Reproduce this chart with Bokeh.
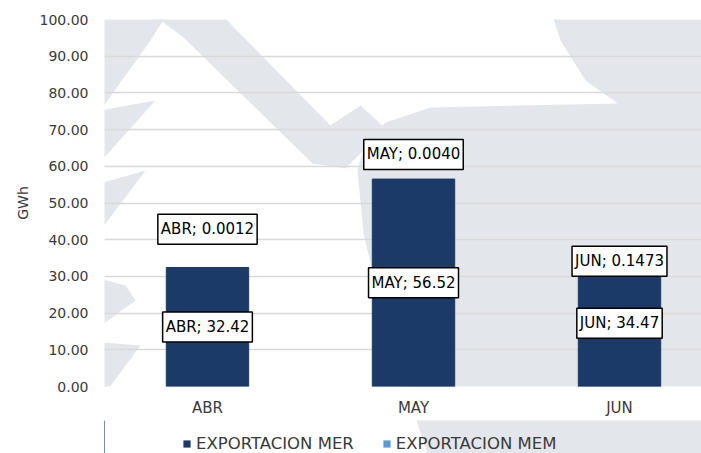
from bokeh.plotting import figure
from bokeh.layouts import column
from bokeh.models import (ColumnDataSource, Range1d, FixedTicker, Legend, LegendItem,
                          NumeralTickFormatter, PolyAnnotation)
from bokeh.core.properties import value
from bokeh.embed import file_html
from bokeh.resources import INLINE

months = ["ABR", "MAY", "JUN"]
mer = [32.42, 56.52, 34.47]
mem = [0.0012, 0.0040, 0.1473]
mem_text = ["0.0012", "0.0040", "0.1473"]
y_ticks = [0, 10, 20, 30, 40, 50, 60, 70, 80, 90, 100]
series = ["EXPORTACION MER", "EXPORTACION MEM"]

# manual label offsets (style/position), data units above stack top
mem_label_offset = [10.4, 6.7, -0.5]

FONT = "DejaVu Sans"
NAVY = "#1b3a68"
LIGHT = "#5b9bd5"
WM = "#e3e6eb"
H1 = 420          # height of main figure
FL, FB = 104, 386  # page position of frame left / frame bottom

# background watermark shapes (decoration, page pixels)
watermark = [
    [(0, 20), (40, 15), (60, 0), (175, 0), (150, 40), (100, 110), (155, 100), (110, 150),
     (75, 190), (145, 170), (100, 230), (70, 270), (125, 285), (135, 300), (80, 340),
     (140, 345), (60, 453), (0, 453)],
    [(140, 0), (207, 0), (330, 125), (360, 105), (385, 128), (345, 168), (312, 163),
     (183, 37), (160, 20)],
    [(547, 0), (701, 0), (701, 453), (427, 453), (387, 333), (363, 233), (357, 170),
     (365, 140), (385, 122), (430, 107), (617, 103), (585, 80), (560, 40)],
]

xs = list(range(len(months)))
src = ColumnDataSource(dict(
    x=xs, mer=mer, mem=mem,
    top_mem=[a + b for a, b in zip(mer, mem)],
    mer_mid=[a / 2 for a in mer],
    mem_lab_y=[a + b + o for a, b, o in zip(mer, mem, mem_label_offset)],
    mer_lab=[f"{m}; {v:.2f}" for m, v in zip(months, mer)],
    mem_lab=[f"{m}; {t}" for m, t in zip(months, mem_text)],
))


def add_watermark(fig, bottom, shapes):
    for poly in shapes:
        fig.add_layout(PolyAnnotation(xs=[a - FL for a, b in poly], ys=[bottom - b for a, b in poly],
                                      xs_units="screen", ys_units="screen", level="image",
                                      fill_color=WM, fill_alpha=1, line_color=None))


p = figure(width=701, height=H1, output_backend="svg", toolbar_location=None,
           x_range=Range1d(-0.5, 2.398), y_range=Range1d(0, 100),
           min_border_left=FL, min_border_right=0, min_border_top=19, min_border_bottom=H1 - FB)
p.outline_line_color = None
p.background_fill_color = "white"
add_watermark(p, FB, watermark)

p.vbar(x="x", bottom=0, top="mer", width=0.4, source=src, fill_color=NAVY, line_color=NAVY)
p.vbar(x="x", bottom="mer", top="top_mem", width=0.4, source=src, fill_color=LIGHT, line_color=None)

p.xgrid.visible = False
p.ygrid.grid_line_color = "#d9d9d9"
p.ygrid.grid_line_width = 1.5
p.yaxis.ticker = FixedTicker(ticks=y_ticks)
p.yaxis.formatter = NumeralTickFormatter(format="0.00")
p.xaxis.ticker = FixedTicker(ticks=xs)
p.xaxis.major_label_overrides = {i: m for i, m in enumerate(months)}

for ax in (p.xaxis[0], p.yaxis[0]):
    ax.axis_line_color = None
    ax.major_tick_line_color = None
    ax.minor_tick_line_color = None
    ax.major_tick_out = 0
    ax.major_tick_in = 0
    ax.minor_tick_out = 0
    ax.minor_tick_in = 0
    ax.major_label_text_font = FONT
    ax.major_label_text_color = "#3a3a3a"
p.yaxis.major_label_text_font_size = "14px"
p.xaxis.major_label_text_font_size = "15px"
p.yaxis.major_label_standoff = 16
p.xaxis.major_label_standoff = 12
p.yaxis.axis_label = "GWh"
p.yaxis.axis_label_text_font = FONT
p.yaxis.axis_label_text_font_size = "14px"
p.yaxis.axis_label_text_font_style = "normal"
p.yaxis.axis_label_text_color = "#3a3a3a"
p.yaxis.axis_label_standoff = 6

for col_y, col_t in (("mer_mid", "mer_lab"), ("mem_lab_y", "mem_lab")):
    p.text(x="x", y=col_y, text=col_t, source=src, text_align="center",
           text_baseline="middle", text_font=value(FONT), text_font_size="15px",
           text_color="black", background_fill_color="white",
           border_line_color="black", border_line_width=1.5, padding=(3, 6))

# legend strip
q = figure(width=701, height=453 - H1, output_backend="svg", toolbar_location=None,
           x_range=Range1d(len(months) + 1, len(months) + 2), y_range=Range1d(0, 1),
           x_axis_type=None, y_axis_type=None, min_border=0)
q.outline_line_color = None
q.grid.visible = False
add_watermark(q, 453, watermark[1:])
g1 = q.vbar(x="x", top="mer", width=0.4, source=src, fill_color=NAVY, line_color=None)
g2 = q.vbar(x="x", top="mem", width=0.4, source=src, fill_color=LIGHT, line_color=None)
legend = Legend(items=[LegendItem(label=series[0], renderers=[g1]),
                       LegendItem(label=series[1], renderers=[g2])],
                orientation="horizontal", location=(182 - FL, 0),
                label_text_font=FONT, label_text_font_size="16.5px", label_text_color="#3a3a3a",
                glyph_width=9, glyph_height=9, label_standoff=5, spacing=28,
                background_fill_alpha=0, border_line_color=None, padding=0, margin=0)
q.add_layout(legend, "center")

open("out.html", "w").write(file_html(column(p, q, spacing=0), INLINE))
